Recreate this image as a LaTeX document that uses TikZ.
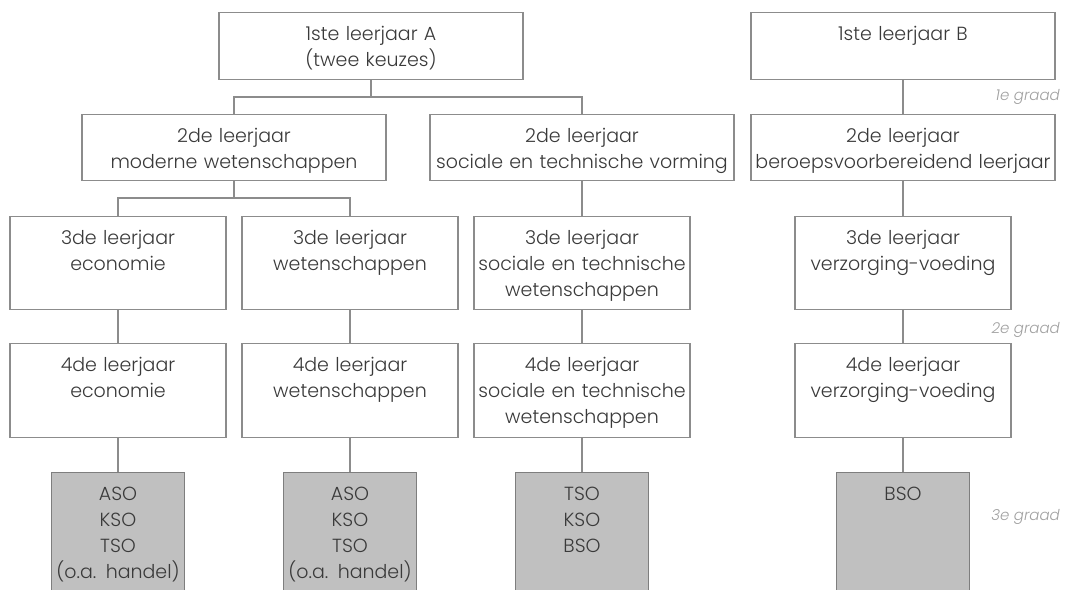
\documentclass[tikz,border=0pt]{standalone}
\usepackage{fontspec}
\setmainfont{Poppins}[UprightFont=* Light, ItalicFont=* Light Italic]
\usetikzlibrary{positioning}
\definecolor{lijngrijs}{HTML}{8C8C8C}
\definecolor{tekstgrijs}{HTML}{3A3A3A}
\definecolor{vakgrijs}{HTML}{C0C0C0}
\definecolor{graadgrijs}{HTML}{A0A0A0}

\begin{document}
\begin{tikzpicture}[x=1pt, y=-1pt,
    vak/.style={draw=lijngrijs, line width=1.3pt, fill=white,
        text=tekstgrijs, inner sep=0pt, align=center, anchor=north,
        font=\fontsize{19}{26}\selectfont, text height=28pt},
    eind/.style={vak, fill=vakgrijs, draw=lijngrijs!90!black},
    lijn/.style={draw=lijngrijs, line width=1.3pt},
    graad/.style={text=graadgrijs, anchor=east, inner sep=0pt,
        font=\fontsize{15}{18}\selectfont\itshape}]
    \useasboundingbox (0,0) rectangle (1065,589);
    \clip (0,0) rectangle (1065,589);
    % 1e graad
    \node [vak,
        text width=304pt,
        text depth=39pt
    ] (A1) at (371,12) {1ste leerjaar A\\(twee keuzes)};
    \node [vak,
        text width=304pt,
        text depth=39pt
    ] (B1) at (903,12) {1ste leerjaar B};
    \node [vak,
        text width=304pt,
        text depth=38pt
    ] (M2) at (234,114) {2de leerjaar\\moderne wetenschappen};
    \node [vak,
        text width=304pt,
        text depth=38pt
    ] (S2) at (582,114) {2de leerjaar\\sociale en technische vorming};
    \node [vak,
        text width=304pt,
        text depth=38pt
    ] (V2) at (903,114) {2de leerjaar\\beroepsvoorbereidend leerjaar};
    % 2e graad
    \node [vak,
        text width=216pt,
        text depth=65pt
    ] (E3) at (118,216) {3de leerjaar\\economie};
    \node [vak,
        text width=216pt,
        text depth=65pt
    ] (W3) at (350,216) {3de leerjaar\\wetenschappen};
    \node [vak,
        text width=216pt,
        text depth=65pt
    ] (T3) at (582,216) {3de leerjaar\\sociale en technische\\wetenschappen};
    \node [vak,
        text width=216pt,
        text depth=65pt
    ] (Z3) at (903,216) {3de leerjaar\\verzorging-voeding};
    \node [vak,
        text width=216pt,
        text depth=66pt
    ] (E4) at (118,343) {4de leerjaar\\economie};
    \node [vak,
        text width=216pt,
        text depth=66pt
    ] (W4) at (350,343) {4de leerjaar\\wetenschappen};
    \node [vak,
        text width=216pt,
        text depth=66pt
    ] (T4) at (582,343) {4de leerjaar\\sociale en technische\\wetenschappen};
    \node [vak,
        text width=216pt,
        text depth=66pt
    ] (Z4) at (903,343) {4de leerjaar\\verzorging-voeding};
    % 3e graad
    \node [eind,
        text width=133pt,
        text depth=130pt
    ] (E5) at (118,472) {ASO\\KSO\\TSO\\(o.a. handel)};
    \node [eind,
        text width=133pt,
        text depth=130pt
    ] (W5) at (350,472) {ASO\\KSO\\TSO\\(o.a. handel)};
    \node [eind,
        text width=133pt,
        text depth=130pt
    ] (T5) at (582,472) {TSO\\KSO\\BSO};
    \node [eind,
        text width=133pt,
        text depth=130pt
    ] (Z5) at (903,472) {BSO};
    % Labels graad
    \node [graad] (graad1) at (1060,97) {1e graad};
    \node [graad] (graad2) at (1060,330) {2e graad};
    \node [graad] (graad3) at (1060,517) {3e graad};
    % Lijnen
    \coordinate (splitA) at (371,97);
    \coordinate (splitM) at (234,198);
    \draw[lijn] (A1.south) -- (splitA);
    \draw[lijn] (M2.north) |- (splitA) -| (S2.north);
    \draw[lijn] (M2.south) -- (splitM);
    \draw[lijn] (E3.north) |- (splitM) -| (W3.north);
    \draw[lijn] (B1.south) -- (V2.north);
    \draw[lijn] (S2.south) -- (T3.north);
    \draw[lijn] (V2.south) -- (Z3.north);
    \draw[lijn] (E3.south) -- (E4.north);
    \draw[lijn] (W3.south) -- (W4.north);
    \draw[lijn] (T3.south) -- (T4.north);
    \draw[lijn] (Z3.south) -- (Z4.north);
    \draw[lijn] (E4.south) -- (E5.north);
    \draw[lijn] (W4.south) -- (W5.north);
    \draw[lijn] (T4.south) -- (T5.north);
    \draw[lijn] (Z4.south) -- (Z5.north);
\end{tikzpicture}
\end{document}
